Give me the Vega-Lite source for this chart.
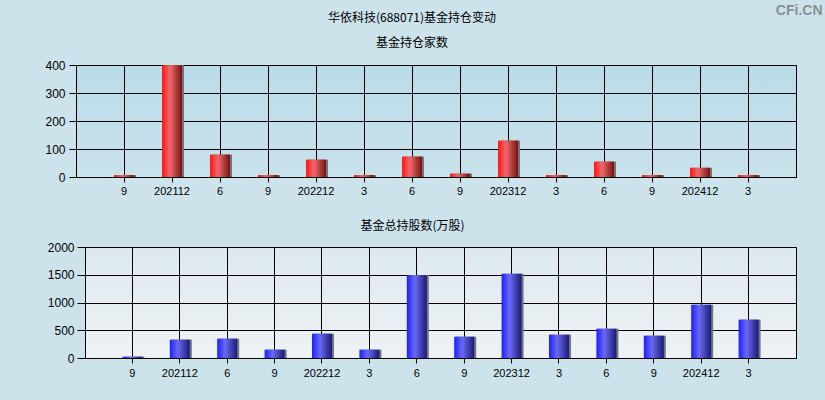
{
  "$schema": "https://vega.github.io/schema/vega-lite/v6.json",
  "background": "#cde3eb",
  "padding": {"left": 0, "top": 3, "right": 3, "bottom": 21},
  "title": {"text": "CFi.CN", "anchor": "end", "frame": "bounds", "fontSize": 14, "fontWeight": "bold", "font": "Liberation Sans", "color": "#8a8f93", "offset": -6, "dx": 26},
  "data": {"values": [
    {"q": "202109", "n": 7, "s": 24},
    {"q": "202112", "n": 399, "s": 330},
    {"q": "202206", "n": 80, "s": 348},
    {"q": "202209", "n": 7, "s": 150},
    {"q": "202212", "n": 62, "s": 438},
    {"q": "202303", "n": 7, "s": 150},
    {"q": "202306", "n": 73, "s": 1495},
    {"q": "202309", "n": 12, "s": 384},
    {"q": "202312", "n": 130, "s": 1520},
    {"q": "202403", "n": 7, "s": 420},
    {"q": "202406", "n": 55, "s": 528},
    {"q": "202409", "n": 7, "s": 402},
    {"q": "202412", "n": 33, "s": 961},
    {"q": "202503", "n": 7, "s": 691}
  ]},
  "spacing": 22,
  "vconcat": [
    {
      "spacing": 0,
      "hconcat": [
        {"data": {"values": []}, "mark": {"type": "point", "opacity": 0}, "width": 1, "height": 1, "view": {"stroke": null, "fill": null}},
        {
          "width": 720,
          "height": 112,
          "view": {"fill": {"gradient": "linear", "x1": 0, "y1": 0, "x2": 0, "y2": 1, "stops": [{"offset": 0, "color": "#b9dce8"}, {"offset": 1, "color": "#c9e2eb"}]}},
          "title": {"text": "华依科技(688071)基金持仓变动", "subtitle": "基金持仓家数", "fontSize": 12, "subtitleFontSize": 12, "font": "Noto Sans CJK SC", "subtitleFont": "Noto Sans CJK SC", "fontWeight": "normal", "color": "#000", "subtitleColor": "#000", "subtitlePadding": 13, "offset": 9, "anchor": "middle", "frame": "group", "dx": -24},
          "encoding": {
            "x": {"field": "q", "type": "ordinal", "sort": null, "scale": {"paddingInner": 0, "paddingOuter": 0.5},
                  "axis": {"title": null, "labelAngle": 0, "labelExpr": "substring(datum.value,4,6)=='12' ? datum.value : toString(toNumber(substring(datum.value,4,6)))", "grid": true, "bandPosition": 0.5, "tickSize": 5, "labelPadding": 3, "labelFontSize": 11}},
            "y": {"field": "n", "type": "quantitative", "scale": {"domain": [0, 400]},
                  "axis": {"title": null, "values": [0, 100, 200, 300, 400], "format": "d", "grid": true, "tickSize": 7, "labelPadding": 4, "labelFontSize": 12, "minExtent": 74, "maxExtent": 74}}
          },
          "layer": [
            {"mark": {"type": "bar", "size": 20, "xOffset": 2, "color": "#6f777c"}},
            {"mark": {"type": "bar", "size": 20, "fill": {"gradient": "linear", "x1": 0, "y1": 0, "x2": 1, "y2": 0, "stops": [{"offset": 0, "color": "#ff1414"}, {"offset": 0.4, "color": "#ee6a6a"}, {"offset": 1, "color": "#741010"}]}}}
          ]
        }
      ]
    },
    {
      "spacing": 0,
      "hconcat": [
        {"data": {"values": []}, "mark": {"type": "point", "opacity": 0}, "width": 1, "height": 1, "view": {"stroke": null, "fill": null}},
        {
          "width": 711,
          "height": 111,
          "view": {"fill": {"gradient": "linear", "x1": 0, "y1": 0, "x2": 0, "y2": 1, "stops": [{"offset": 0, "color": "#dde9ef"}, {"offset": 1, "color": "#eef2f4"}]}},
          "title": {"text": "基金总持股数(万股)", "fontSize": 12, "font": "Noto Sans CJK SC", "fontWeight": "normal", "color": "#000", "offset": 8, "anchor": "middle", "frame": "group", "dx": -28},
          "encoding": {
            "x": {"field": "q", "type": "ordinal", "sort": null, "scale": {"paddingInner": 0, "paddingOuter": 0.5},
                  "axis": {"title": null, "labelAngle": 0, "labelExpr": "substring(datum.value,4,6)=='12' ? datum.value : toString(toNumber(substring(datum.value,4,6)))", "grid": true, "bandPosition": 0.5, "tickSize": 5, "labelPadding": 4, "labelFontSize": 11}},
            "y": {"field": "s", "type": "quantitative", "scale": {"domain": [0, 2000]},
                  "axis": {"title": null, "values": [0, 500, 1000, 1500, 2000], "format": "d", "grid": true, "tickSize": 8, "labelPadding": 3, "labelFontSize": 12, "minExtent": 83, "maxExtent": 83}}
          },
          "layer": [
            {"mark": {"type": "bar", "size": 20, "xOffset": 2, "color": "#6f777c"}},
            {"mark": {"type": "bar", "size": 20, "fill": {"gradient": "linear", "x1": 0, "y1": 0, "x2": 1, "y2": 0, "stops": [{"offset": 0, "color": "#1e1eff"}, {"offset": 0.4, "color": "#6a6af0"}, {"offset": 1, "color": "#1a1a7a"}]}}}
          ]
        }
      ]
    }
  ],
  "config": {
    "view": {"stroke": "#000", "strokeWidth": 1},
    "axis": {"domainColor": "#000", "tickColor": "#000", "gridColor": "#000", "gridOpacity": 1, "gridWidth": 1, "labelColor": "#000", "labelFont": "Liberation Sans"}
  }
}
